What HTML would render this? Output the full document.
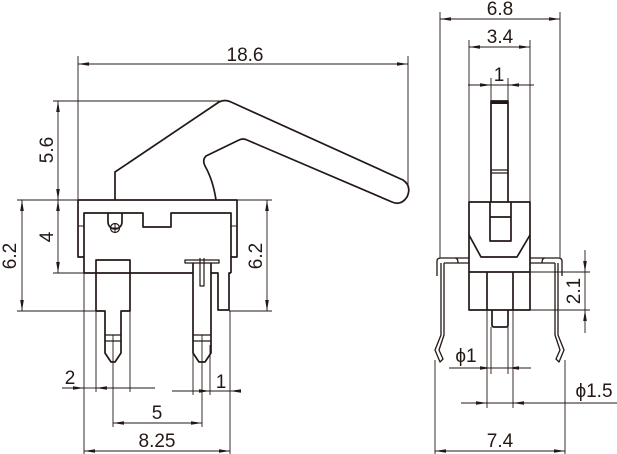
<!DOCTYPE html>
<html><head><meta charset="utf-8"><style>
html,body{margin:0;padding:0;background:#fff}
svg{display:block}
text{font-family:"Liberation Sans",sans-serif;font-size:19px;fill:#231815}
</style></head><body>
<svg width="617" height="454" viewBox="0 0 617 454" xmlns="http://www.w3.org/2000/svg">
<defs>
<marker id="a" markerUnits="userSpaceOnUse" markerWidth="12" markerHeight="6" refX="11" refY="2.5" orient="auto-start-reverse"><path d="M0,0.7 L11,2.5 L0,4.3 z" fill="#231815"/></marker>
</defs>
<g stroke="#231815" fill="none">
<g stroke-width="0.9">
<line x1="78" y1="56" x2="78" y2="200"/><line x1="408" y1="56" x2="408" y2="186"/>
<line x1="78" y1="64" x2="408" y2="64" marker-start="url(#a)" marker-end="url(#a)"/>
<line x1="53" y1="101" x2="225" y2="101"/>
<line x1="58" y1="101" x2="58" y2="200" marker-start="url(#a)" marker-end="url(#a)"/>
<line x1="58" y1="200" x2="58" y2="273" marker-start="url(#a)" marker-end="url(#a)"/>
<line x1="53" y1="273" x2="84" y2="273"/>
<line x1="17" y1="200" x2="78" y2="200"/><line x1="17" y1="311" x2="96" y2="311"/>
<line x1="22" y1="200" x2="22" y2="311" marker-start="url(#a)" marker-end="url(#a)"/>
<line x1="237" y1="200" x2="272" y2="200"/><line x1="229" y1="311" x2="272" y2="311"/>
<line x1="267" y1="200" x2="267" y2="311" marker-start="url(#a)" marker-end="url(#a)"/>
<line x1="84" y1="273" x2="84" y2="454"/>
<line x1="96" y1="311" x2="96" y2="392"/>
<line x1="113" y1="363" x2="113" y2="427"/>
<line x1="130" y1="311" x2="130" y2="392"/>
<line x1="193" y1="345" x2="193" y2="395"/>
<line x1="202" y1="363" x2="202" y2="427"/>
<line x1="210" y1="345" x2="210" y2="395"/>
<line x1="230" y1="311" x2="230" y2="454"/>
<line x1="62" y1="388" x2="84" y2="388" marker-end="url(#a)"/>
<line x1="84" y1="388" x2="96" y2="388"/>
<line x1="155" y1="388" x2="96" y2="388" marker-end="url(#a)"/>
<line x1="172" y1="391" x2="210" y2="391" marker-end="url(#a)"/>
<line x1="210" y1="391" x2="230" y2="391"/>
<line x1="238" y1="391" x2="230" y2="391" marker-end="url(#a)"/>
<line x1="113" y1="423" x2="202" y2="423" marker-start="url(#a)" marker-end="url(#a)"/>
<line x1="84" y1="451" x2="230" y2="451" marker-start="url(#a)" marker-end="url(#a)"/>

<line x1="440" y1="12" x2="440" y2="258"/><line x1="560" y1="12" x2="560" y2="258"/>
<line x1="440" y1="19" x2="560" y2="19" marker-start="url(#a)" marker-end="url(#a)"/>
<line x1="469" y1="40" x2="469" y2="202"/><line x1="530" y1="40" x2="530" y2="202"/>
<line x1="469" y1="47" x2="530" y2="47" marker-start="url(#a)" marker-end="url(#a)"/>
<line x1="491" y1="78" x2="491" y2="101"/><line x1="508" y1="78" x2="508" y2="101"/>
<line x1="468" y1="85" x2="491" y2="85" marker-end="url(#a)"/>
<line x1="491" y1="85" x2="508" y2="85"/>
<line x1="534" y1="85" x2="508" y2="85" marker-end="url(#a)"/>
<line x1="530" y1="272" x2="590" y2="272"/><line x1="530" y1="310" x2="590" y2="310"/>
<line x1="585" y1="250" x2="585" y2="272" marker-end="url(#a)"/>
<line x1="585" y1="272" x2="585" y2="310"/>
<line x1="585" y1="333" x2="585" y2="310" marker-end="url(#a)"/>
<line x1="487" y1="310" x2="487" y2="408"/><line x1="513" y1="310" x2="513" y2="408"/>
<line x1="491" y1="327" x2="491" y2="374"/><line x1="508" y1="327" x2="508" y2="374"/>
<line x1="449" y1="368" x2="491" y2="368" marker-end="url(#a)"/>
<line x1="491" y1="368" x2="508" y2="368"/>
<line x1="531" y1="368" x2="508" y2="368" marker-end="url(#a)"/>
<line x1="461" y1="403" x2="487" y2="403" marker-end="url(#a)"/>
<line x1="487" y1="403" x2="513" y2="403"/>
<line x1="617" y1="403" x2="513" y2="403" marker-end="url(#a)"/>
<line x1="435" y1="360" x2="435" y2="454"/><line x1="565" y1="360" x2="565" y2="454"/>
<line x1="435" y1="451" x2="565" y2="451" marker-start="url(#a)" marker-end="url(#a)"/>
<line x1="113" y1="335" x2="113" y2="363"/><line x1="202" y1="335" x2="202" y2="363"/>
</g>

<g stroke-width="1.7" stroke-linejoin="round">
<path d="M115,200 L115,172 L219,102 Q225,99 231,102 L403,180 Q412,186 407,197 Q401,206 392,202 L247,140 Q243,138 239,140 L206,156 Q202,160 205,166 Q213,180 216,200"/>
<path d="M78,200 L237,200 L237,257 L231,257 L231,273"/>
<path d="M78,200 L78,257 L84,257 L84,273 L193,273"/>
<path d="M84,257 L84,213 L143,213 L143,227 L171,227 L171,213 L231,213 L231,257"/>
<path d="M84,226 L78,226 M231,226 L237,226" stroke-width="1"/>
<path d="M108,213 L108,222 A7,7 0 0 0 122,222 L122,213"/>
<circle cx="115" cy="228" r="4.5" stroke-width="1.2"/>
<path d="M110.5,228 L119.5,228 M115,223.5 L115,232.5" stroke-width="1"/>
<path d="M96,273 L96,260 L130,260 L130,311 L121,311 L121,335 L121,353 L115,362 L111,362 L105,353 L105,311 L96,311 Z"/>
<path d="M105,335 L121,335 M105,341 L121,341" stroke-width="1.2"/>
<path d="M185,260 L219,260 L219,263 L185,263 Z" stroke-width="1.3"/>
<path d="M193,263 L193,353 L199,362 L205,362 L211,353 L211,263"/>
<path d="M200,258 L200,286 L204,286 L204,258" stroke-width="1.2"/>
<path d="M193,335 L211,335 M193,341 L211,341" stroke-width="1.2"/>
<path d="M211,273 L218,273 L218,310 L229,310 L229,273 L231,273"/>
<path d="M491,202 L491,101 L508,101 L508,202"/>
<line x1="491" y1="102.5" x2="508" y2="102.5" stroke-width="3"/>
<path d="M491,170 L508,170 M491,173 L508,173" stroke-width="1.2"/>
<path d="M469,202 L530,202 L530,310 L469,310 Z"/>
<path d="M490,202 L490,241 L511,241 L511,202 M490,217 L511,217"/>
<path d="M469,235 L481,257 L517,257 L530,235"/>
<path d="M469,272 L530,272 M487,272 L487,310 M513,272 L513,310"/>
<path d="M492,310 L492,325 Q492,327 494,327 L506,327 Q508,327 508,325 L508,310"/>
<path d="M441,258 L469,258 M444,263 L469,263" stroke-width="1.3"/>
<path d="M455,258 Q458,258 458,263 M437,276 L437,261 Q437,258 441,258" stroke-width="1.3"/>
<path d="M441,263 L441,335 L435,350 L440,362 L443,359 L439,350 L444,335 L444,263" stroke-width="1.3"/>
<path d="M530,258 L558,258 M530,263 L555,263" stroke-width="1.3"/>
<path d="M545,258 Q542,258 542,263 M562,276 L562,261 Q562,258 558,258" stroke-width="1.3"/>
<path d="M558,263 L558,335 L564,350 L559,362 L556,359 L560,350 L555,335 L555,263" stroke-width="1.3"/>
</g>
</g>

<text x="245" y="61" text-anchor="middle">18.6</text>
<text transform="translate(53,150) rotate(-90)" text-anchor="middle">5.6</text>
<text transform="translate(53,237) rotate(-90)" text-anchor="middle">4</text>
<text transform="translate(16,256) rotate(-90)" text-anchor="middle">6.2</text>
<text transform="translate(262,256) rotate(-90)" text-anchor="middle">6.2</text>
<text x="70" y="384" text-anchor="middle">2</text>
<text x="221" y="388" text-anchor="middle">1</text>
<text x="157" y="419" text-anchor="middle">5</text>
<text x="157" y="447" text-anchor="middle">8.25</text>
<text x="500" y="15" text-anchor="middle">6.8</text>
<text x="500" y="43" text-anchor="middle">3.4</text>
<text x="499" y="81" text-anchor="middle">1</text>
<text transform="translate(580,291) rotate(-90)" text-anchor="middle">2.1</text>
<text x="466" y="362" text-anchor="middle">ϕ1</text>
<text x="594" y="397" text-anchor="middle">ϕ1.5</text>
<text x="500" y="447" text-anchor="middle">7.4</text>
</svg>
</body></html>
